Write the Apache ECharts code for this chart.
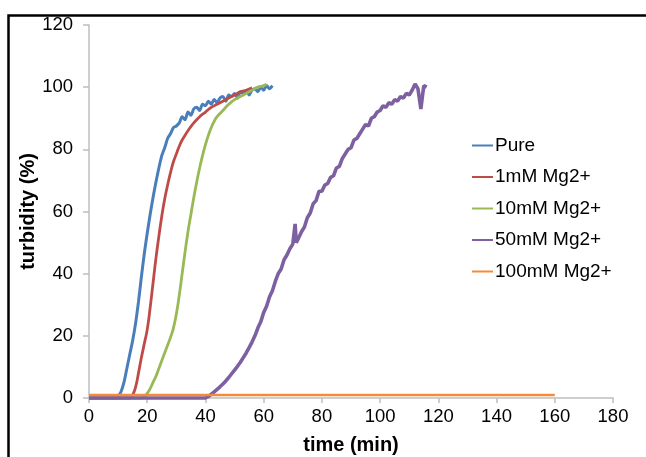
<!DOCTYPE html>
<html>
<head>
<meta charset="utf-8">
<script src="https://cdn.jsdelivr.net/npm/echarts@6/dist/echarts.min.js"></script>
<style>html,body{margin:0;padding:0;background:#fff;}#c{width:646px;height:457px;}</style>
</head>
<body>
<div id="c"></div>
<script>
var seriesNames = ['Pure', '1mM Mg2+', '10mM Mg2+', '50mM Mg2+', '100mM Mg2+'];
var xTicks = [0, 20, 40, 60, 80, 100, 120, 140, 160, 180];
var yTicks = [0, 20, 40, 60, 80, 100, 120];

var pureT = [0,9.5,10,11,12,13,14,15,16,17,18,19,20,21,22,23,24,25,26,27,28,29,30,31,32,33,34,35,36,37,38,39,40,41,42,43,44,45,46,47,48,49,50,51,52,53,54,55,56,57,58,59,60,61,62,63];
var pureV = [0,0,0.5,2,5,9.5,14,18.5,24,31,39,46.5,53,59,64.5,69.5,74,78,80.5,83.5,85,87,87.5,88.5,90.5,89.5,92,91,93,93.5,92.5,94.5,94,95.5,94.5,96,95,96.5,97,95.5,97.5,97,98,96.5,98.5,98,99,97.5,99,99.5,98.5,100,99,100.5,99.5,100.5];

var mg1T = [0,14,15,16,17,18,19,20,21,22,23,24,25,26,27,28,29,30,31,32,33,34,36,38,40,42,44,46,48,50,52,54,56];
var mg1V = [0,0,1,3.5,8,13,17.5,22,29,37,45,52,58.5,64,68.5,72.5,76,78.5,81,83,84.5,86,88.5,90.5,92,93.5,94.5,95.5,96.5,97.5,98.5,99,99.8];

var mg10T = [0,18,19,20,21,22,23,24,25,26,27,28,29,30,31,32,33,34,35,36,37,38,39,40,41,42,43,44,46,48,50,52,54,56,58,60,61];
var mg10V = [0,0,0.5,1.5,3,5,7,9.5,12,14.5,17,19.5,22.5,27,33,40,47,53.5,59,64.5,69.5,74,78,81.5,84.5,87,89,90.5,92.5,94.5,96,97,98,99,100,100.5,101];

var mg50T = [0,40,41,42,43,44,45,46,47,48,49,50,51,52,53,54,55,56,57,58,59,60,61,62,63,64,65,66,67,68,69,70,70.8,71.2,72,73,74,75,76,77,78,79,80,81,82,83,84,85,86,87,88,89,90,91,92,93,94,95,96,97,98,99,100,101,102,103,104,105,106,107,108,109,110,111,112,113,114,115,116];
var mg50V = [0,0,0.5,1.2,2,2.8,3.6,4.5,5.5,6.6,7.8,9,10.2,11.5,13,14.5,16.2,18,20,22.5,24.5,27.5,29.5,32.5,34.5,37.5,40,41.5,44.5,46,48,49.5,56,50,51.5,53.5,55,58,59.5,62.5,63.5,66.5,66.5,68.5,69,71,71.5,74,74.5,77,78.5,80,80.5,83,83.5,85,86.5,88,87.5,90,90.5,92,92.5,94,93.5,95,94.5,96,95.5,97,96.5,98,97.5,99,101,99.5,93,100.5,100];

var mg100T = [0,20,40,60,80,100,120,140,160];
var mg100V = [1,1,1,1,1,1,1,1,1];

var colors = ['#4a7ebb', '#be4b48', '#98b954', '#7d60a0', '#f58a3a'];
var widths = [3, 2.8, 2.8, 3.6, 2.5];
var smooths = [0.25, 0.5, 0.5, false, false];
var Ts = [pureT, mg1T, mg10T, mg50T, mg100T];
var Vs = [pureV, mg1V, mg10V, mg50V, mg100V];

function zip(t, v) { return t.map(function (x, i) { return [x, v[i]]; }); }

var font = 'Liberation Sans, Arial, sans-serif';
var axisCol = '#bfbfbf';

var chart = echarts.init(document.getElementById('c'), null, { renderer: 'canvas' });
chart.setOption({
  animation: false,
  backgroundColor: '#fff',
  graphic: [{
    type: 'rect', z: 100,
    shape: { x: 8.5, y: 15.5, width: 800, height: 600 },
    style: { fill: 'none', stroke: '#000', lineWidth: 2.5 }
  }],
  grid: { left: 89, right: 33, top: 25, bottom: 59, containLabel: false, outerBoundsMode: 'none' },
  legend: {
    orient: 'vertical', left: 467, top: 131, itemGap: 12.5,
    icon: 'rect', itemWidth: 21, itemHeight: 2,
    textStyle: { fontFamily: font, fontSize: 19, color: '#000', padding: [0, 0, 0, -3] },
    data: seriesNames
  },
  xAxis: {
    type: 'value', min: 0, max: 180, interval: 20,
    name: 'time (min)', nameLocation: 'middle', nameGap: 37, nameMoveOverlap: false,
    nameTextStyle: { fontFamily: font, fontSize: 20, fontWeight: 'bold', color: '#000' },
    axisLine: { lineStyle: { color: axisCol, width: 1.5 } },
    axisTick: { show: true, length: 5, lineStyle: { color: axisCol, width: 1.5 } },
    axisLabel: { fontFamily: font, fontSize: 18.5, color: '#000', margin: 9,
      formatter: function (v) { return xTicks.indexOf(v) >= 0 ? String(v) : ''; } },
    splitLine: { show: false }
  },
  yAxis: {
    type: 'value', min: 0, max: 120, interval: 20,
    name: 'turbidity (%)', nameLocation: 'middle', nameGap: 51, nameMoveOverlap: false,
    nameTextStyle: { fontFamily: font, fontSize: 20, fontWeight: 'bold', color: '#000' },
    axisLine: { show: true, lineStyle: { color: axisCol, width: 1.5 } },
    axisTick: { show: true, length: 6, lineStyle: { color: axisCol, width: 1.5 } },
    axisLabel: { fontFamily: font, fontSize: 18.5, color: '#000', margin: 16,
      formatter: function (v) { return yTicks.indexOf(v) >= 0 ? String(v) : ''; } },
    splitLine: { show: false }
  },
  series: seriesNames.map(function (n, i) {
    return {
      name: n, type: 'line', showSymbol: false, symbol: 'none',
      data: zip(Ts[i], Vs[i]),
      smooth: smooths[i],
      itemStyle: { color: colors[i] },
      lineStyle: { color: colors[i], width: widths[i] },
      clip: false
    };
  })
});
</script>
</body>
</html>
